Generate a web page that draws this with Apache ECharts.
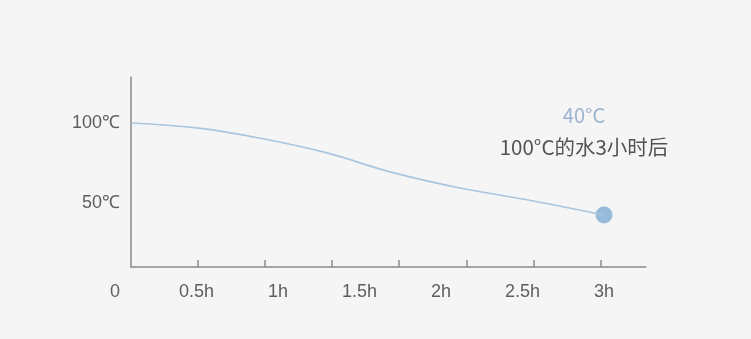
<!DOCTYPE html>
<html>
<head>
<meta charset="utf-8">
<script src="https://cdn.jsdelivr.net/npm/echarts@6/dist/echarts.min.js"></script>
<style>
html,body{margin:0;padding:0;background:#f5f5f5;}
#chart{width:751px;height:339px;}
</style>
</head>
<body>
<div id="chart"></div>
<script>
// Time (hours) and water temperature (°C)
var hours = [0.1, 0.5, 0.9, 1.3, 1.7, 2.1, 2.5, 3.0];
var temps = [100, 96.9, 90.3, 81.3, 69.1, 59.7, 52.5, 42.5];
// x tick labels (hours)
var hourLabels = [0, 0.5, 1, 1.5, 2, 2.5, 3];
// y tick labels (°C)
var tempLabels = [50, 100];
// decorative axis tick marks (index units along the axis)
var tickMarks = [1, 2, 3, 4, 5, 6, 7];
var endValue = '40°C';
var endCaption = '100°C的水3小时后';

var lineData = hours.map(function (h, i) { return [h, temps[i]]; });
var endPoint = [[hours[hours.length - 1], temps[temps.length - 1]]];

var chart = echarts.init(document.getElementById('chart'));
chart.setOption({
  backgroundColor: '#f5f5f5',
  animation: false,
  grid: [
    { left: 131, right: 105, top: 77, bottom: 72 },
    { left: 115, right: 147, top: 77, bottom: 56 }
  ],
  xAxis: [
    {
      type: 'value', gridIndex: 0, min: 0, max: 7.68,
      axisLine: { show: true, lineStyle: { color: '#8a8a8a', width: 1.5 } },
      axisTick: { show: true, inside: true, length: 7, customValues: tickMarks,
        lineStyle: { color: '#8a8a8a', width: 1.5 } },
      axisLabel: { show: false },
      splitLine: { show: false }
    },
    {
      type: 'value', gridIndex: 1, min: 0, max: 3, interval: 0.5,
      axisLine: { show: false }, axisTick: { show: false }, splitLine: { show: false },
      axisLabel: {
        show: true, margin: 0, color: '#5e5e5e', fontSize: 18,
        fontFamily: 'Liberation Sans, Arial, sans-serif',
        customValues: hourLabels,
        formatter: function (v) { return v === 0 ? '0' : v + 'h'; }
      }
    }
  ],
  yAxis: [
    {
      type: 'value', gridIndex: 0, min: 10, max: 128.75,
      axisLine: { show: true, lineStyle: { color: '#8a8a8a', width: 1.5 } },
      axisTick: { show: false },
      splitLine: { show: false },
      axisLabel: {
        show: true, margin: 11, color: '#5e5e5e', fontSize: 18,
        fontFamily: 'Liberation Sans, Arial, sans-serif',
        customValues: tempLabels,
        formatter: function (v) { return v + '℃'; }
      }
    },
    {
      type: 'value', gridIndex: 1, min: 0, max: 128.75, show: false
    }
  ],
  series: [
    {
      type: 'line', xAxisIndex: 1, yAxisIndex: 1,
      data: lineData, smooth: 0.4, showSymbol: false,
      lineStyle: { color: '#aac5de', width: 1.7 },
      silent: true
    },
    {
      type: 'scatter', xAxisIndex: 1, yAxisIndex: 1,
      data: endPoint, symbolSize: 17,
      itemStyle: { color: '#7eabd3' },
      label: {
        show: true, position: 'top', distance: 43, offset: [-20, 0],
        formatter: '{a|' + endValue + '}\n{b|' + endCaption + '}',
        rich: {
          a: { fontSize: 20, color: '#86a4c8', lineHeight: 32, align: 'center',
               fontFamily: 'Noto Sans CJK SC, sans-serif' },
          b: { fontSize: 20.5, color: '#2a2a2a', lineHeight: 32, align: 'center',
               fontFamily: 'Noto Sans CJK SC, sans-serif' }
        }
      }
    }
  ]
});
</script>
</body>
</html>
